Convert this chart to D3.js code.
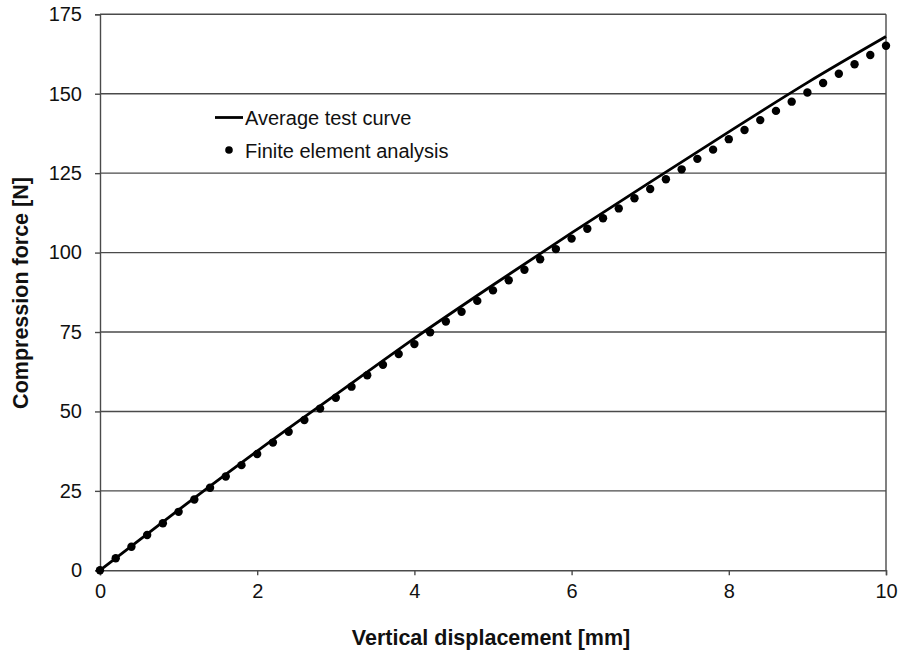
<!DOCTYPE html>
<html>
<head>
<meta charset="utf-8">
<script src="https://cdn.jsdelivr.net/npm/d3@7"></script>
<style>
  html, body { margin: 0; padding: 0; background: #fff; }
  svg { display: block; font-family: "Liberation Sans", Arial, sans-serif; }
</style>
</head>
<body>
<svg id="chart" width="899" height="654"></svg>
<script>
// Average test curve: displacement [mm] and force [N]
const testDisp = [0, 1, 2, 3, 4, 5, 6, 7, 8, 9, 10];
const testForce = [0, 19.0, 37.5, 55.3, 73.0, 89.8, 106.2, 122.2, 138.0, 153.5, 168.0];

// Finite element analysis results, every 0.2 mm
const feDisp = [0, 0.2, 0.4, 0.6, 0.8, 1.0, 1.2, 1.4, 1.6, 1.8, 2.0, 2.2, 2.4, 2.6, 2.8, 3.0, 3.2, 3.4, 3.6, 3.8,
  4.0, 4.2, 4.4, 4.6, 4.8, 5.0, 5.2, 5.4, 5.6, 5.8, 6.0, 6.2, 6.4, 6.6, 6.8, 7.0, 7.2, 7.4, 7.6, 7.8,
  8.0, 8.2, 8.4, 8.6, 8.8, 9.0, 9.2, 9.4, 9.6, 9.8, 10.0];
const feForce = [0, 3.8, 7.4, 11.1, 14.8, 18.4, 22.3, 26.0, 29.5, 33.1, 36.6, 40.2, 43.6, 47.3, 50.9, 54.3, 57.8, 61.4, 64.7, 68.1,
  71.2, 74.9, 78.3, 81.4, 84.8, 88.1, 91.3, 94.6, 97.9, 101.1, 104.4, 107.5, 110.8, 113.9, 117.1, 120.0, 123.1, 126.2, 129.5, 132.4,
  135.7, 138.6, 141.7, 144.6, 147.5, 150.4, 153.4, 156.3, 159.3, 162.2, 165.1];

const xTicks = [0, 2, 4, 6, 8, 10];
const yTicks = [0, 25, 50, 75, 100, 125, 150, 175];

const seriesNames = ["Average test curve", "Finite element analysis"];
const xTitle = "Vertical displacement [mm]";
const yTitle = "Compression force [N]";

const svg = d3.select("#chart");
const plotLeft = 100, plotRight = 886, plotTop = 14.3, plotBottom = 570.3;

const x = d3.scaleLinear().domain([0, 10]).range([plotLeft, plotRight]);
const y = d3.scaleLinear().domain([0, 175]).range([plotBottom, plotTop]);

const gridColor = "#4a4a4a";

// horizontal gridlines
svg.append("g")
  .selectAll("line")
  .data(yTicks.filter(d => d > 0))
  .join("line")
  .attr("x1", plotLeft).attr("x2", plotRight)
  .attr("y1", d => y(d)).attr("y2", d => y(d))
  .attr("stroke", gridColor).attr("stroke-width", 1.4);

// right border
svg.append("line")
  .attr("x1", plotRight).attr("x2", plotRight).attr("y1", plotTop).attr("y2", plotBottom)
  .attr("stroke", gridColor).attr("stroke-width", 1.4);

// axes
const yAxis = svg.append("g")
  .attr("transform", `translate(${plotLeft},0)`)
  .call(d3.axisLeft(y).tickValues(yTicks).tickSize(5).tickPadding(13).tickFormat(d3.format("d")));
const xAxis = svg.append("g")
  .attr("transform", `translate(0,${plotBottom})`)
  .call(d3.axisBottom(x).tickValues(xTicks).tickSize(5).tickPadding(9).tickFormat(d3.format("d")));

[yAxis, xAxis].forEach(g => {
  g.select(".domain").attr("stroke", gridColor).attr("stroke-width", 1.4);
  g.selectAll(".tick line").attr("stroke", gridColor).attr("stroke-width", 1.4);
  g.selectAll(".tick text")
    .attr("fill", "#111")
    .style("font-size", "20px")
    .style("font-family", "'Liberation Sans', Arial, sans-serif");
});

// average test curve
const line = d3.line()
  .x((d, i) => x(testDisp[i]))
  .y(d => y(d))
  .curve(d3.curveMonotoneX);
svg.append("path")
  .datum(testForce)
  .attr("d", line)
  .attr("fill", "none")
  .attr("stroke", "#000")
  .attr("stroke-width", 2.8);

// FE points
svg.append("g")
  .selectAll("circle")
  .data(feForce)
  .join("circle")
  .attr("cx", (d, i) => x(feDisp[i]))
  .attr("cy", d => y(d))
  .attr("r", 4.2)
  .attr("fill", "#000");

// legend
const lg = svg.append("g").style("font-size", "20px").attr("fill", "#111");
lg.append("line").attr("x1", 215).attr("x2", 243).attr("y1", 117.5).attr("y2", 117.5)
  .attr("stroke", "#000").attr("stroke-width", 2.8);
lg.append("text").attr("x", 245).attr("y", 124.5).text(seriesNames[0]);
lg.append("circle").attr("cx", 229).attr("cy", 150).attr("r", 3.8).attr("fill", "#000");
lg.append("text").attr("x", 245).attr("y", 157.5).text(seriesNames[1]);

// axis titles
svg.append("text")
  .attr("x", (plotLeft + plotRight) / 2 - 2).attr("y", 645)
  .attr("text-anchor", "middle")
  .style("font-size", "21.5px").style("font-weight", "bold").attr("fill", "#111")
  .text(xTitle);
svg.append("text")
  .attr("transform", `translate(28,293) rotate(-90)`)
  .attr("text-anchor", "middle")
  .style("font-size", "21.5px").style("font-weight", "bold").attr("fill", "#111")
  .text(yTitle);
</script>
</body>
</html>
